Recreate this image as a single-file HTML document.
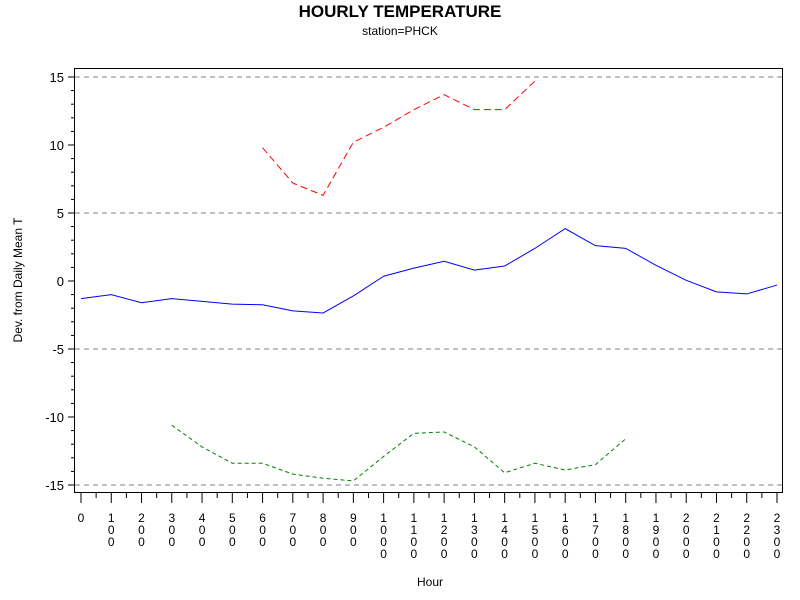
<!DOCTYPE html>
<html><head><meta charset="utf-8"><style>body{margin:0;background:#fff}svg{display:block;font-family:"Liberation Sans",sans-serif}</style></head>
<body>
<svg id="c" width="800" height="600">
<text x="400" y="17" text-anchor="middle" font-size="17" font-weight="bold">HOURLY TEMPERATURE</text>
<text x="400" y="35" text-anchor="middle" font-size="12">station=PHCK</text>
<text x="430" y="586" text-anchor="middle" font-size="12">Hour</text>
<text transform="translate(22,280) rotate(-90)" text-anchor="middle" font-size="12">Dev. from Daily Mean T</text>
<rect x="74.5" y="68.5" width="708" height="424" fill="none" stroke="#000"/>
<g id="g"></g>
</svg>
<script>
const hours=[0,1,2,3,4,5,6,7,8,9,10,11,12,13,14,15,16,17,18,19,20,21,22,23];
const meanDev=[-1.3,-1.0,-1.6,-1.3,-1.5,-1.7,-1.75,-2.2,-2.35,-1.1,0.35,0.95,1.45,0.8,1.1,2.4,3.85,2.6,2.4,1.15,0.05,-0.8,-0.95,-0.3];
const maxHours=[6,7,8,9,10,11,12,13,14,15];
const maxDev=[9.8,7.2,6.3,10.2,11.3,12.6,13.7,12.6,12.6,14.7];
const minHours=[3,4,5,6,7,8,9,10,11,12,13,14,15,16,17,18];
const minDev=[-10.6,-12.2,-13.4,-13.4,-14.2,-14.5,-14.7,-12.9,-11.2,-11.1,-12.2,-14.1,-13.4,-13.9,-13.5,-11.6];
const yTicks=[-15,-10,-5,0,5,10,15];
const refLines=[-15,-5,5,15];
const X=h=>81+h*(777-81)/23;
const Y=v=>281-v*13.6;
const g=document.getElementById('g');
const NS='http://www.w3.org/2000/svg';
function mk(t,a){const e=document.createElementNS(NS,t);for(const k in a)e.setAttribute(k,a[k]);g.appendChild(e);return e;}
refLines.forEach(v=>{
const l=mk('line',{x1:75,x2:782,y1:Y(v),y2:Y(v),stroke:'#808080','stroke-dasharray':'5,4'});


});
for(let v=-15;v<=15;v++){
const major=yTicks.includes(v);
const t=mk('line',{x1:major?68:71,x2:74,y1:Y(v),y2:Y(v),stroke:'#000'});


}
yTicks.forEach(v=>{
const t=mk('text',{x:64,y:Y(v)+5,'text-anchor':'end','font-size':'13'});
t.textContent=v;


});
hours.forEach(h=>{
const t=mk('line',{x1:X(h),x2:X(h),y1:493,y2:503,stroke:'#000'});


if(h<23){const m=mk('line',{x1:X(h+0.5),x2:X(h+0.5),y1:493,y2:498,stroke:'#000'});

}
const s=String(h*100);
const tx=mk('text',{x:X(h),'text-anchor':'middle','font-size':'12'});


[...s].forEach((c,i)=>{const sp=document.createElementNS(NS,'tspan');sp.setAttribute('x',X(h));sp.setAttribute('y',522+i*12);sp.textContent=c;tx.appendChild(sp);});
});
function series(xs,ys,color,dash,name){
const p=mk('polyline',{points:xs.map((h,i)=>X(h)+','+Y(ys[i])).join(' '),fill:'none',stroke:color,'stroke-width':1});
if(dash)p.setAttribute('stroke-dasharray',dash);


}
series(hours,meanDev,'#0000ff',null,'mean-deviation-line');
series(maxHours,maxDev,'#ff0000','7,4','max-deviation-line');
series(minHours,minDev,'#008000','4,3','min-deviation-line');
</script>
</body></html>
